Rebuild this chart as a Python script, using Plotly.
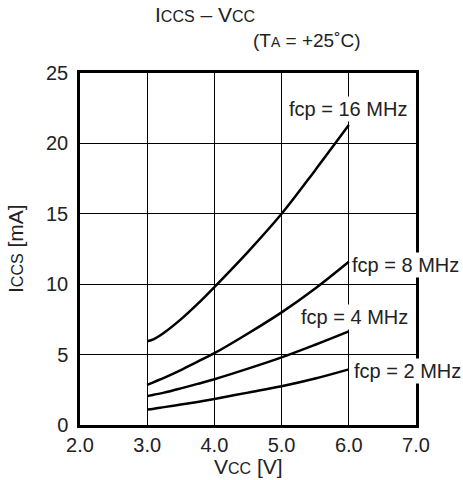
import plotly.graph_objects as go

vcc = [3.0, 3.1, 3.25, 3.5, 3.75, 4.0, 4.5, 5.0, 5.5, 6.0]
icc_16 = [5.95, 6.1, 6.55, 7.5, 8.6, 9.8, 12.3, 15.0, 18.1, 21.3]
icc_8 = [2.85, 3.05, 3.35, 3.9, 4.5, 5.1, 6.5, 8.0, 9.7, 11.6]
icc_4 = [2.05, 2.15, 2.3, 2.6, 2.92, 3.25, 4.0, 4.8, 5.7, 6.65]
icc_2 = [1.1, 1.16, 1.27, 1.45, 1.64, 1.85, 2.3, 2.75, 3.3, 3.95]

series = [("16", icc_16), ("8", icc_8), ("4", icc_4), ("2", icc_2)]
label_pos = {"16": (5.99, 22.44), "8": (6.85, 11.36), "4": (6.09, 7.67), "2": (6.88, 3.84)}

FONT = "Liberation Sans, Arial, sans-serif"
COLOR = "#222"
W, H = 463, 480

# plot area in figure pixels
X0, X1, Y0, Y1 = 80, 416, 73, 425
PW, PH = X1 - X0, Y1 - Y0


def px(x):
    return (x - X0) / PW


def py(y):
    return (Y1 - y) / PH


fig = go.Figure()
for name, vals in series:
    fig.add_trace(go.Scatter(x=vcc, y=vals, mode="lines",
                             line=dict(color="black", width=2.5, shape="spline"),
                             showlegend=False, hoverinfo="skip"))
for name, vals in series:
    lx, ly = label_pos[name]
    fig.add_annotation(x=lx, y=ly, xref="x", yref="y", text=f"fcp = {name} MHz",
                       showarrow=False, bgcolor="white", borderpad=1,
                       font=dict(family=FONT, size=20, color=COLOR))

sm = "font-size:16px"
fig.add_annotation(xref="paper", yref="paper", x=px(205), y=py(15),
                   xanchor="center", yanchor="middle",
                   text=f"I<span style='{sm}'>CCS</span> – V<span style='{sm}'>CC</span>",
                   showarrow=False, font=dict(family=FONT, size=21, color=COLOR))
fig.add_annotation(xref="paper", yref="paper", x=px(307), y=py(40),
                   xanchor="center", yanchor="middle",
                   text="(T<span style='font-size:14px'>A</span> = +25˚C)",
                   showarrow=False, font=dict(family=FONT, size=19, color=COLOR))
fig.add_annotation(xref="paper", yref="paper", x=0.5, y=py(466),
                   xanchor="center", yanchor="middle",
                   text=f"V<span style='{sm}'>CC</span> [V]",
                   showarrow=False, font=dict(family=FONT, size=21, color=COLOR))
fig.add_annotation(xref="paper", yref="paper", x=px(15), y=0.5,
                   xanchor="center", yanchor="middle", textangle=-90,
                   text=f"I<span style='{sm}'>CCS</span> [mA]",
                   showarrow=False, font=dict(family=FONT, size=21, color=COLOR))

fig.update_layout(
    width=W, height=H,
    margin=dict(l=X0, r=W - X1, t=Y0, b=H - Y1, autoexpand=False),
    paper_bgcolor="white", plot_bgcolor="white",
    font=dict(family=FONT, size=20, color=COLOR),
    xaxis=dict(range=[2, 7], dtick=1, tick0=2, tickformat=".1f",
               showgrid=True, gridcolor="black", gridwidth=1,
               showline=True, linecolor="black", linewidth=2.5, mirror=True,
               ticks="", zeroline=False, automargin=False, ticklabelstandoff=0),
    yaxis=dict(range=[0, 25], dtick=5, tick0=0,
               showgrid=True, gridcolor="black", gridwidth=1,
               showline=True, linecolor="black", linewidth=2.5, mirror=True,
               ticks="", zeroline=False, ticklabelstandoff=5, automargin=False),
)
fig.write_html("out.html", config={"displayModeBar": False},
               post_script="document.body.style.margin='0';document.body.style.overflow='hidden';")
